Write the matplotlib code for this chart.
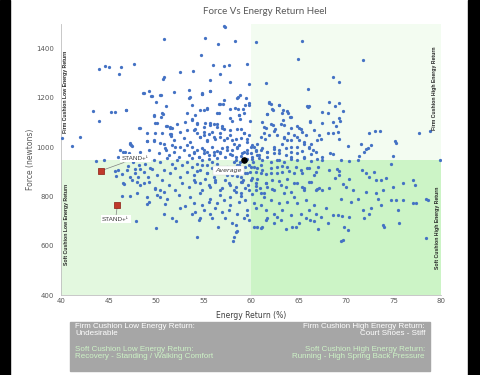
import numpy as np
import matplotlib.pyplot as plt
from matplotlib.patches import Rectangle

# (energy return %, force N), region by region
upper_left = [
    (50.76, 1438), (44.0, 1317), (44.6, 1330), (45.05, 1324), (46.3, 1325), (46.05, 1298),
    (47.6, 1336), (52.45, 1304), (50.65, 1278), (50.76, 1284), (48.6, 1222), (49.2, 1229),
    (49.5, 1209), (50.4, 1210), (49.95, 1182), (51.0, 1167), (53.45, 1233), (53.45, 1199),
    (43.3, 1148), (44.0, 1107), (45.25, 1142), (45.6, 1144), (46.85, 1152), (48.2, 1078),
    (49.7, 1128), (50.65, 1136), (50.5, 1121), (50.06, 1099), (51.0, 1086), (51.4, 1082),
    (51.7, 1078), (51.5, 1054), (51.5, 1046), (49.9, 1058), (40.1, 1038), (42.0, 1040),
    (41.15, 1006), (47.25, 1019), (47.35, 1009), (49.0, 1025), (49.7, 1029), (50.4, 1019),
    (51.65, 1009), (52.0, 999), (52.5, 1002), (53.2, 1011), (46.2, 990), (46.5, 981),
    (47.1, 977), (51.05, 988),
]

upper_mid = [
    (57.1, 1493), (57.25, 1486), (55.15, 1445), (56.45, 1417), (58.25, 1429), (60.5, 1425),
    (65.3, 1433), (64.95, 1359), (54.7, 1375), (53.9, 1308), (55.95, 1332), (57.1, 1330),
    (57.7, 1332), (59.55, 1338), (56.7, 1298), (55.6, 1273), (57.8, 1263), (59.75, 1255),
    (61.55, 1260), (65.95, 1236), (54.8, 1222), (54.85, 1215), (55.6, 1227), (58.55, 1202),
    (58.8, 1210), (59.4, 1200), (56.6, 1176), (57.05, 1175), (55.3, 1160), (55.0, 1153),
    (54.1, 1131), (53.75, 1114), (58.3, 1160), (58.55, 1156), (59.1, 1157), (59.8, 1170),
    (61.9, 1182), (62.1, 1176), (62.3, 1151), (62.9, 1172), (63.35, 1152), (63.9, 1138),
    (64.05, 1123), (66.05, 1168), (66.2, 1107), (59.9, 1108), (58.7, 1130), (58.85, 1115),
    (57.75, 1119), (58.0, 1107), (56.55, 1140), (61.7, 1134), (61.1, 1101), (61.3, 1083),
    (62.3, 1090), (62.45, 1073), (63.3, 1110), (64.2, 1078), (63.9, 1057), (65.0, 1080),
    (65.75, 1050), (66.6, 1069), (67.1, 1049), (54.3, 1097), (55.0, 1083), (55.7, 1097),
    (56.1, 1094), (56.4, 1083), (56.9, 1079), (57.1, 1073), (58.95, 1073), (59.2, 1056),
    (59.6, 1034), (59.8, 1049), (53.95, 1069), (54.3, 1056), (54.55, 1042), (55.0, 1049),
    (55.5, 1053), (55.35, 1026), (56.05, 1040), (56.75, 1042), (57.45, 1036), (57.8, 1049),
    (58.35, 1032), (58.15, 1015), (58.7, 1009), (57.45, 1002), (61.0, 1042), (61.4, 1034),
    (61.85, 1049), (62.75, 1049), (63.45, 1036), (64.15, 1029), (64.85, 1040), (65.55, 1022),
    (66.25, 1013), (66.95, 1029), (53.76, 1002), (54.29, 988), (54.82, 995), (55.35, 981),
    (55.88, 1002), (56.41, 985), (56.93, 995), (57.99, 988), (58.52, 1002), (59.22, 981),
    (59.93, 1002), (60.45, 985), (61.16, 995), (61.69, 981), (62.39, 1002), (62.92, 988),
    (63.63, 995), (64.16, 981), (64.86, 1002), (65.39, 985), (66.09, 995), (66.80, 981),
    (71.77, 1352), (68.56, 1284), (69.2, 1263), (66.0, 1164),
]

core_left = [
    (48.65, 1221), (49.42, 1207), (50.48, 1211), (51.82, 1225), (53.58, 1205), (53.76, 1171),
    (54.81, 1218), (55.62, 1228), (56.68, 1175), (57.10, 1191), (58.51, 1198), (59.29, 1171),
    (59.75, 1178), (46.81, 1153), (49.70, 1130), (50.59, 1137), (53.23, 1140), (54.64, 1151),
    (55.34, 1157), (56.40, 1137), (57.81, 1157), (58.69, 1130), (59.22, 1137), (49.88, 1099),
    (51.11, 1086), (51.47, 1080), (52.17, 1096), (53.05, 1103), (53.76, 1110), (54.29, 1096),
    (55.17, 1099), (55.69, 1090), (56.40, 1096), (56.93, 1086), (48.29, 1080), (49.00, 1056),
    (50.59, 1056), (51.47, 1053), (52.52, 1063), (53.23, 1069), (54.11, 1072), (54.99, 1063),
    (55.87, 1063), (56.75, 1059), (57.81, 1069), (58.51, 1076), (59.22, 1056), (47.24, 1015),
    (47.41, 1005), (49.00, 1026), (49.70, 1026), (50.76, 1015), (51.82, 1029), (52.88, 1036),
    (53.58, 1022), (54.64, 1042), (55.34, 1029), (56.22, 1032), (57.10, 1029), (57.99, 1029),
    (58.87, 1036), (59.57, 1022), (46.71, 982), (47.24, 968), (48.29, 982), (49.18, 988),
    (50.23, 975), (50.94, 995), (51.29, 968), (51.82, 982), (52.35, 961), (52.88, 988),
    (53.40, 968), (53.93, 982), (54.46, 961), (54.99, 988), (55.52, 968), (56.05, 982),
    (56.75, 975), (57.46, 988), (57.99, 968), (58.51, 995), (59.04, 975), (59.57, 988),
    (47.59, 941), (48.12, 928), (48.82, 934), (49.70, 948), (50.41, 941), (51.11, 955),
    (51.64, 934), (52.17, 948), (52.70, 928), (53.23, 941), (53.76, 955), (54.29, 934),
    (54.81, 948), (55.34, 928), (55.87, 941), (56.40, 955), (58.16, 941), (58.69, 928),
    (59.40, 948), (59.75, 928), (46.88, 907), (47.77, 894), (48.65, 900), (49.35, 914),
    (50.06, 887), (50.76, 907), (51.47, 894), (51.99, 914), (52.52, 880), (53.23, 900),
    (53.93, 887), (54.64, 907), (55.34, 894), (56.05, 880), (56.75, 900), (57.46, 887),
    (58.16, 907), (58.87, 880), (59.57, 894), (46.53, 853), (47.41, 867), (48.29, 846),
    (49.18, 860), (49.88, 833), (50.59, 867), (51.29, 846), (51.99, 826), (52.70, 853),
    (53.40, 840), (54.11, 860), (54.81, 826), (55.52, 846), (56.22, 867), (56.93, 833),
    (57.63, 853), (58.34, 840), (59.04, 860), (59.75, 826), (47.94, 813), (49.00, 799),
    (50.06, 806), (51.11, 792), (52.35, 806), (53.58, 799), (54.64, 813), (55.69, 792),
    (56.75, 806), (57.81, 799), (58.87, 813), (58.34, 961), (58.8, 941), (59.29, 918),
    (59.85, 900), (58.51, 883), (59.15, 867), (59.64, 846), (58.23, 826), (58.94, 802),
    (59.5, 954), (59.92, 975), (58.69, 914),
]

core_mid = [
    (53.93, 975), (54.46, 961), (54.99, 977), (55.52, 954), (56.05, 968), (56.75, 982),
    (57.28, 959), (57.81, 972), (58.34, 950), (58.87, 964), (59.57, 977), (60.10, 954),
    (60.63, 968), (61.16, 948), (61.69, 961), (62.39, 975), (62.92, 950), (63.62, 968),
    (64.15, 954), (64.86, 975), (65.56, 959), (66.27, 972), (66.97, 954), (53.76, 921),
    (54.28, 904), (54.81, 927), (55.34, 894), (55.87, 914), (56.40, 934), (56.93, 900),
    (57.46, 921), (57.99, 887), (58.51, 927), (59.04, 907), (59.39, 894), (59.92, 921),
    (60.45, 900), (60.98, 927), (61.51, 891), (62.04, 914), (62.67, 896), (63.27, 923),
    (63.98, 904), (64.68, 921), (65.39, 894), (66.09, 914), (66.79, 900), (53.93, 867),
    (54.64, 853), (55.17, 873), (55.69, 840), (56.22, 860), (56.75, 826), (57.28, 869),
    (57.81, 846), (58.34, 819), (58.87, 860), (59.39, 833), (59.92, 867), (60.45, 842),
    (60.98, 815), (61.51, 853), (62.21, 829), (62.92, 864), (63.62, 840), (64.15, 819),
    (64.86, 853), (65.56, 833), (66.27, 860), (66.97, 829),
]

core_right = [
    (61.87, 1178), (62.22, 1157), (62.93, 1171), (61.69, 1134), (63.28, 1137), (63.81, 1148),
    (64.16, 1124), (65.92, 1167), (66.20, 1103), (61.34, 1056), (61.52, 1080), (62.04, 1096),
    (62.40, 1067), (63.10, 1096), (63.45, 1090), (64.86, 1086), (65.22, 1076), (65.39, 1063),
    (64.51, 1049), (63.45, 1042), (63.28, 1015), (63.81, 1029), (64.16, 999), (65.04, 1029),
    (65.57, 1015), (66.10, 1002), (66.45, 988), (60.63, 1015), (60.28, 1002), (60.99, 988),
    (61.69, 982), (62.40, 991), (62.93, 975), (60.11, 961), (60.81, 955), (62.04, 941),
    (62.75, 948), (63.45, 941), (64.16, 961), (64.86, 948), (65.57, 955), (66.27, 945),
    (60.28, 921), (61.16, 907), (62.04, 894), (62.75, 918), (63.28, 900), (63.81, 921),
    (64.51, 894), (65.22, 907), (65.92, 914), (66.63, 887), (60.63, 873), (61.52, 853),
    (62.22, 867), (63.10, 846), (63.81, 873), (64.51, 853), (65.39, 840), (66.10, 860),
    (66.80, 826), (60.46, 826), (61.34, 813), (62.40, 826), (63.45, 813), (64.51, 799),
    (65.57, 826), (60.11, 1008), (60.46, 988), (60.81, 968), (60.21, 941), (60.56, 914),
    (60.99, 894), (60.11, 877), (60.46, 853), (60.92, 833), (61.34, 799), (60.04, 812),
    (61.69, 840),
]

right_side = [
    (68.21, 1184), (68.84, 1167), (69.20, 1178), (69.69, 1148), (67.50, 1141), (68.03, 1137),
    (67.43, 1099), (68.56, 1103), (69.20, 1117), (69.34, 1107), (68.91, 1086), (68.03, 1056),
    (68.56, 1056), (69.09, 1063), (72.37, 1056), (73.07, 1067), (73.60, 1067), (75.19, 1026),
    (75.26, 1019), (77.65, 1056), (78.78, 1064), (67.33, 1032), (69.20, 1032), (70.18, 1006),
    (71.59, 1015), (72.61, 1011), (72.09, 991), (71.91, 982), (72.26, 995), (68.28, 975),
    (68.56, 972), (67.50, 961), (67.43, 948), (69.44, 948), (70.32, 945), (71.21, 950),
    (71.38, 964), (74.98, 965), (79.9, 948), (74.73, 934), (66.98, 918), (68.21, 907),
    (69.02, 910), (69.27, 903), (70.32, 873), (71.63, 907), (72.09, 894), (72.44, 880),
    (72.97, 900), (73.67, 867), (74.20, 877), (73.14, 867), (75.96, 853), (77.02, 867),
    (77.30, 846), (69.27, 887), (68.84, 877), (69.69, 850), (67.15, 833), (67.50, 826),
    (68.21, 833), (69.97, 840), (70.68, 826), (69.44, 792), (71.21, 792), (70.50, 779),
    (72.09, 819), (73.14, 815), (73.85, 826), (74.91, 840), (73.32, 792), (74.73, 786),
    (75.26, 786), (76.03, 786), (77.02, 775), (77.37, 772), (78.43, 792), (78.61, 786),
    (73.67, 765), (72.61, 752), (72.44, 731), (71.73, 745), (68.56, 725), (69.09, 725),
    (69.55, 721), (70.32, 718), (71.91, 711), (73.85, 684), (74.02, 677), (75.43, 745),
    (75.61, 691), (67.86, 752), (67.33, 718), (68.03, 691), (69.80, 677), (78.36, 630),
    (69.44, 620), (69.62, 623),
]

lower = [
    (43.65, 945), (44.53, 950), (46.0, 959), (46.71, 948), (45.65, 904), (46.0, 907),
    (47.06, 923), (47.77, 910), (48.3, 910), (45.76, 883), (46.36, 891), (47.24, 880),
    (48.02, 880), (46.54, 850), (49.07, 880), (49.53, 910), (46.36, 802), (47.24, 803),
    (49.18, 779), (49.0, 769), (47.88, 702), (49.99, 673), (50.76, 731), (50.94, 769),
    (51.65, 711), (52.1, 702), (50.41, 799), (49.88, 829), (50.41, 826), (50.76, 819),
    (52.53, 752), (53.05, 761), (47.95, 859), (48.65, 853), (54.28, 634), (58.09, 621),
    (58.16, 637), (58.34, 657), (58.51, 661), (56.5, 675), (54.64, 711), (54.46, 704),
    (55.87, 711), (57.28, 711), (57.98, 691), (58.34, 684), (59.22, 711), (53.76, 731),
    (54.11, 738), (54.99, 745), (55.69, 731), (56.22, 752), (56.93, 738), (57.63, 745),
    (58.51, 731), (59.57, 745), (60.45, 752), (61.51, 745), (62.39, 731), (63.27, 745),
    (64.15, 725), (65.21, 731), (66.09, 745), (66.80, 731), (53.93, 772), (54.81, 765),
    (55.52, 779), (56.40, 772), (57.10, 785), (57.81, 765), (58.69, 779), (59.39, 785),
    (60.28, 772), (60.98, 765), (62.04, 785), (62.92, 772), (63.80, 779), (64.86, 772),
    (65.74, 785), (66.62, 765), (60.28, 677), (60.63, 675), (60.98, 671), (61.16, 675),
    (63.7, 669), (64.3, 675), (64.7, 675), (67.05, 669), (70.15, 664), (66.2, 704),
    (66.6, 702), (65.75, 711), (65.04, 694), (62.4, 691), (62.75, 718), (63.1, 704),
    (61.5, 704), (61.7, 711), (59.6, 725), (59.75, 704),
]

average = (59.2, 948)
stand_pts = [(44.2, 905), (45.9, 765)]
stand_text = [(47.8, 955), (45.7, 708)]

er_split = 60
force_split = 950

points = np.array(upper_left + upper_mid + core_left + core_mid + core_right + right_side + lower)
er, force = points[:, 0], points[:, 1]

fig = plt.figure(figsize=(4.8, 3.75), dpi=100)
fig.patch.set_facecolor('white')
# black bands at both sides of the screenshot
fig.add_artist(Rectangle((0, 0), 10 / 480, 1, transform=fig.transFigure, color='black', zorder=0))
fig.add_artist(Rectangle((468 / 480, 0), 12 / 480, 1, transform=fig.transFigure, color='black', zorder=0))

ax = fig.add_axes([0.128, 0.213, 0.791, 0.723])
ax.set_xlim(40, 80)
ax.set_ylim(400, 1500)

# quadrant shading
ax.axvspan(er_split, 80, ymin=(force_split - 400) / 1100, ymax=1, color='#f3fcf1', lw=0, zorder=0)
ax.axvspan(40, er_split, ymin=0, ymax=(force_split - 400) / 1100, color='#e3f8df', lw=0, zorder=0)
ax.axvspan(er_split, 80, ymin=0, ymax=(force_split - 400) / 1100, color='#ccf4c6', lw=0, zorder=0)

ax.scatter(er, force, s=5.5, color='#4472c4', lw=0, zorder=3)

# STAND+ markers
for (sx, sy), (tx, ty) in zip(stand_pts, stand_text):
    ax.annotate('STAND+\u00b9', xy=(sx, sy), xytext=(tx, ty), fontsize=4.6, color='#404040',
                ha='center', va='center', family='Liberation Sans',
                bbox=dict(boxstyle='square,pad=0.25', fc='white', ec='none'),
                arrowprops=dict(arrowstyle='-', color='#7f7f7f', lw=0.5, shrinkA=0, shrinkB=2),
                zorder=5)
    ax.scatter([sx], [sy], s=22, marker='s', color='#c0392b', edgecolor='#8b1a10', lw=0.5, zorder=6)

ax.scatter([average[0]], [average[1]], s=14, color='black', zorder=6)
ax.text(57.6, 907, 'Average', fontsize=4.6, style='italic', color='#404040', ha='center', va='center',
        bbox=dict(boxstyle='square,pad=0.3', fc='white', ec='#d0d0d0', lw=0.3), zorder=5)

quad_kw = dict(rotation=90, fontsize=3.7, fontweight='bold', color='#262626',
               ha='center', va='center', family='Liberation Sans', zorder=4)
ax.text(40.45, 1226, 'Firm Cushion Low Energy Return', **quad_kw)
ax.text(40.55, 686, 'Soft Cushion Low Energy Return', **quad_kw)
ax.text(79.25, 1240, 'Firm Cushion High Energy Return', **quad_kw)
ax.text(79.65, 672, 'Soft Cushion High Energy Return', **quad_kw)

ax.set_xticks(np.arange(40, 81, 5))
ax.set_yticks(np.arange(400, 1401, 200))
ax.tick_params(length=0, labelsize=5, labelcolor='#595959')
ax.tick_params(axis='y', pad=5)
ax.tick_params(axis='x', pad=2)
for side in ['top', 'right']:
    ax.spines[side].set_visible(False)
for side in ['left', 'bottom']:
    ax.spines[side].set_color('#bfbfbf')
    ax.spines[side].set_linewidth(0.6)

ax.set_xlabel('Energy Return (%)', fontsize=5.5, color='#404040', labelpad=5)
ax.set_ylabel('Force (newtons)', fontsize=5.5, color='#595959', labelpad=1)

fig.text(0.551, 0.968, 'Force Vs Energy Return Heel', fontsize=7, color='#595959',
         ha='center', va='center', family='Lato')

# legend box below the chart
fig.add_artist(Rectangle((70 / 480, 1 - 371 / 375), 360 / 480, 49 / 375,
                         transform=fig.transFigure, color='#a6a6a6', zorder=1))
box_kw = dict(fontsize=5.8, family='Liberation Sans', va='top', linespacing=1.05, zorder=2)
fig.text(75 / 480, 1 - 323 / 375, 'Firm Cushion Low Energy Return:\nUndesirable', color='white', ha='left', **box_kw)
fig.text(425 / 480, 1 - 323 / 375, 'Firm Cushion High Energy Return:\nCourt Shoes - Stiff', color='white', ha='right', **box_kw)
fig.text(75 / 480, 1 - 346 / 375, 'Soft Cushion Low Energy Return:\nRecovery - Standing / Walking Comfort', color='#cdf3c6', ha='left', **box_kw)
fig.text(425 / 480, 1 - 346 / 375, 'Soft Cushion High Energy Return:\nRunning - High Spring Back Pressure', color='#cdf3c6', ha='right', **box_kw)

fig.savefig('out.png', dpi=100)
